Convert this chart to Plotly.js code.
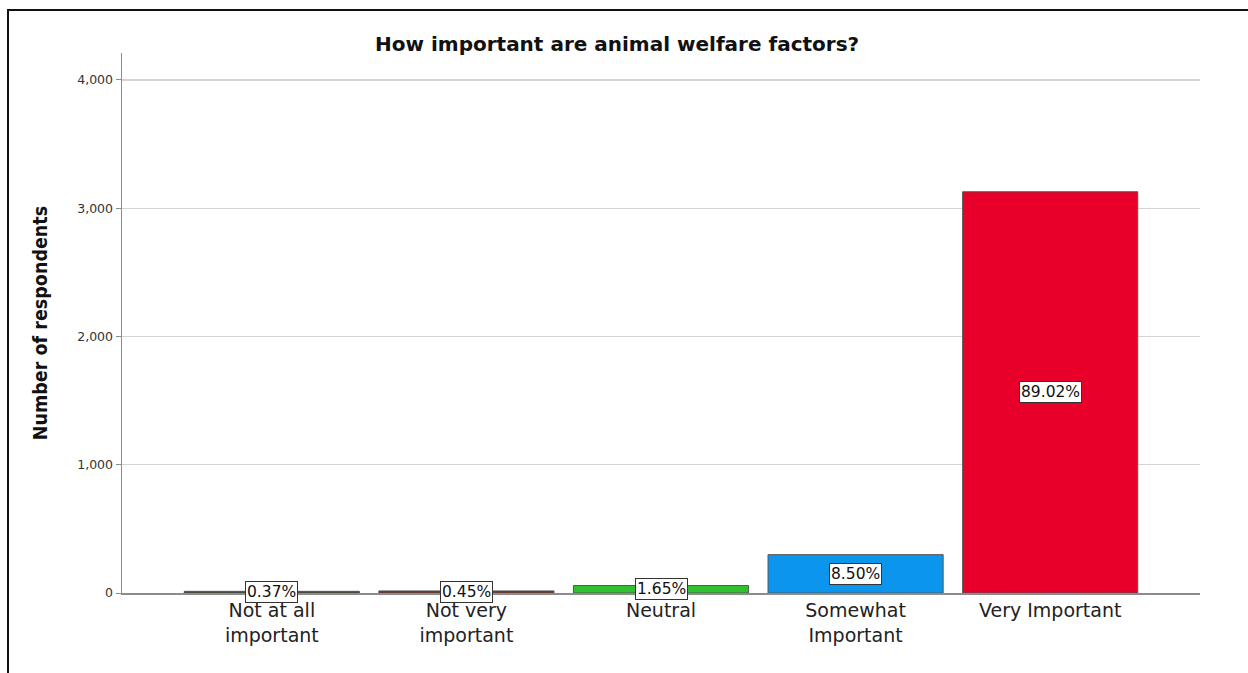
<!DOCTYPE html>
<html>
<head>
<meta charset="utf-8">
<script src="https://cdn.plot.ly/plotly-3.0.1.min.js"></script>
<style>
  html, body { margin: 0; padding: 0; background: #fff; overflow: hidden; }
  #wrap { position: relative; width: 1248px; height: 673px; overflow: hidden; }
  #frame { position: absolute; left: 7px; top: 9px; width: 1300px; height: 700px;
           border-top: 2px solid #111; border-left: 2px solid #111; pointer-events: none; }
  #chart { position: absolute; left: 0; top: 0; width: 1248px; height: 673px; }
</style>
</head>
<body>
<div id="wrap">
  <div id="chart"></div>
  <div id="frame"></div>
</div>
<script>
// Data
const categories = ["Not at all important", "Not very important", "Neutral", "Somewhat Important", "Very Important"];
const tickLabels = ["Not at all<br>important", "Not very<br>important", "Neutral", "Somewhat<br>Important", "Very Important"];
const respondents = [13, 16, 58, 299, 3128];
const percentLabels = ["0.37%", "0.45%", "1.65%", "8.50%", "89.02%"];
const barColors = ["#3b4429", "#7c2a1a", "#2ec22e", "#0b95ec", "#e8002a"];

const trace = {
  type: "bar",
  x: categories,
  y: respondents,
  width: 0.9,
  marker: { color: barColors, line: { color: "#555555", width: 1 } },
  hoverinfo: "x+y"
};

const annotations = categories.map((c, i) => ({
  x: c,
  y: respondents[i] / 2,
  xref: "x",
  yref: "y",
  text: percentLabels[i],
  showarrow: false,
  bgcolor: "#ffffff",
  bordercolor: "#333333",
  borderwidth: 1,
  borderpad: 1,
  font: { family: "DejaVu Sans", size: 15.5, color: "#111" }
}));

const layout = {
  width: 1248,
  height: 673,
  margin: { l: 122, r: 48, t: 53, b: 80 },
  paper_bgcolor: "#ffffff",
  plot_bgcolor: "#ffffff",
  showlegend: false,
  title: {
    text: "<b>How important are animal welfare factors?</b>",
    x: 0.4945,
    xanchor: "center",
    y: 0.935,
    yanchor: "middle",
    font: { family: "DejaVu Sans", size: 20, color: "#111" }
  },
  xaxis: {
    type: "category",
    categoryorder: "array",
    categoryarray: categories,
    range: [-0.77, 4.77],
    tickmode: "array",
    tickvals: categories,
    ticktext: tickLabels,
    ticks: "",
    showgrid: false,
    showline: true,
    linecolor: "#8c8c8c",
    linewidth: 1.5,
    zeroline: false,
    tickfont: { family: "DejaVu Sans", size: 19, color: "#222" },
    ticklabelstandoff: 0
  },
  yaxis: {
    range: [0, 4210],
    tickmode: "array",
    tickvals: [0, 1000, 2000, 3000, 4000],
    ticktext: ["0", "1,000", "2,000", "3,000", "4,000"],
    ticks: "outside",
    ticklen: 5,
    tickcolor: "#8c8c8c",
    showgrid: true,
    gridcolor: "#d4d4d4",
    gridwidth: 1.2,
    showline: true,
    linecolor: "#8c8c8c",
    linewidth: 1.5,
    zeroline: false,
    tickfont: { family: "DejaVu Sans", size: 12.5, color: "#333" },
    title: {
      text: "<b>Number of respondents</b>",
      font: { family: "DejaVu Sans Condensed", size: 19.5, color: "#111" },
      standoff: 24
    }
  },
  annotations: annotations,
  bargap: 0.1
};

Plotly.newPlot("chart", [trace], layout, { displayModeBar: false, staticPlot: true });
</script>
</body>
</html>
